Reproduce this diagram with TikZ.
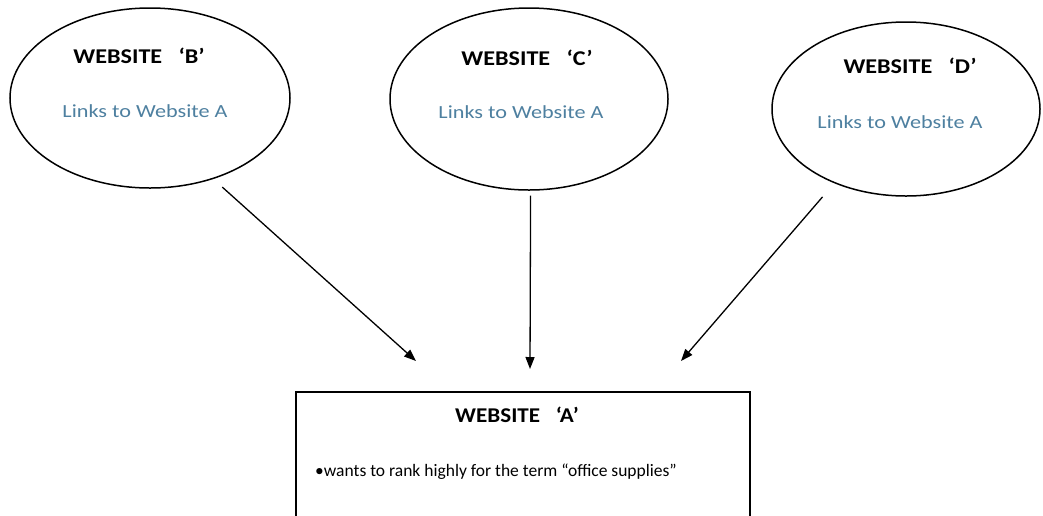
\documentclass[tikz,border=0pt]{standalone}
\usepackage{fontspec}
\setmainfont{Carlito}
\usetikzlibrary{arrows.meta,shapes.geometric}
\definecolor{linkblue}{RGB}{78,128,160}
% slightly widened lettering
\newcommand{\widetxt}[2]{\scalebox{#1}[1]{#2}}
\begin{document}
\begin{tikzpicture}[x=1pt,y=-1pt,
  site/.style={draw,line width=1.5pt,shape=ellipse,inner sep=0pt},
  title/.style={anchor=base,inner sep=0pt,font=\fontsize{21}{24}\selectfont\bfseries},
  linktxt/.style={anchor=base,inner sep=0pt,font=\fontsize{18.5}{22}\selectfont,text=linkblue},
  conn/.style={line width=1.3pt,-{Triangle[length=12pt,width=9pt]}}]
\useasboundingbox (0,0) rectangle (1043,515);
\fill[white] (0,0) rectangle (1043,515);

% outer websites
\node[site,minimum width=280pt,minimum height=180pt] (B) at (150,98) {};
\node[site,minimum width=278pt,minimum height=182pt] (C) at (529,99) {};
\node[site,minimum width=268pt,minimum height=174pt] (D) at (906,109) {};
\node[title]   (tB) at (139,63)  {\widetxt{1.15}{WEBSITE\ \ \ ‘B’}};
\node[linktxt] (lB) at (145,117) {\widetxt{1.2}{Links to Website A}};
\node[title]   (tC) at (527,65)  {\widetxt{1.15}{WEBSITE\ \ \ ‘C’}};
\node[linktxt] (lC) at (521,118) {\widetxt{1.2}{Links to Website A}};
\node[title]   (tD) at (910,73)  {\widetxt{1.15}{WEBSITE\ \ \ ‘D’}};
\node[linktxt] (lD) at (900,128) {\widetxt{1.2}{Links to Website A}};

% target website, its lower edge runs past the page
\draw[line width=1.5pt] (296,525) -- (296,392) -- (750,392) -- (750,525);
\node[title] (tA) at (517,422) {\widetxt{1.1}{WEBSITE\ \ \ ‘A’}};
\node[anchor=base,inner sep=0pt,font=\fontsize{17.5}{20}\selectfont] (dA) at (496,476)
  {•wants to rank highly for the term “office supplies”};

% link arrows
\coordinate (eB) at (416,361);
\coordinate (eC) at (530,369);
\coordinate (eD) at (681,361);
\draw[conn,shorten <=12pt] (B.-52) -- (eB);
\draw[conn,shorten <=5pt] (C.-89.5) -- (eC);
\draw[conn,shorten <=18pt] (D.-134) -- (eD);
\end{tikzpicture}
\end{document}
